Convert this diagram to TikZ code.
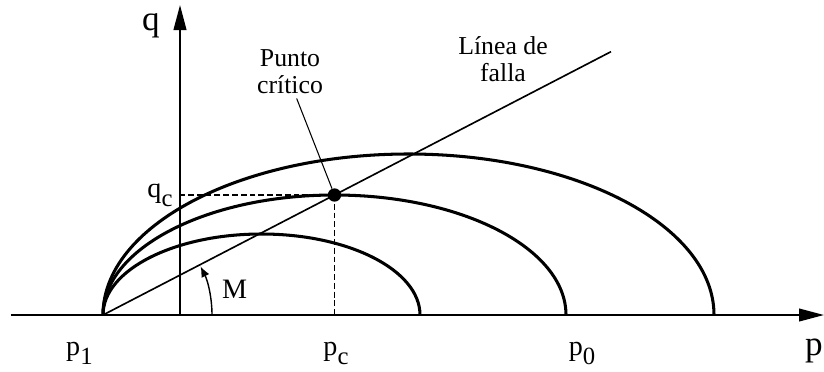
\documentclass[tikz,border=0pt]{standalone}
\usepackage{fontspec}
\setmainfont{Liberation Serif}
\usepackage{graphicx}
\usetikzlibrary{arrows.meta}
\newcommand{\lsub}[1]{\raisebox{-.35em}{\scalebox{.88}{#1}}}

\begin{document}
\begin{tikzpicture}[lbl/.style={inner sep=0pt,font=\fontsize{24}{26}\selectfont},big/.style={inner sep=0pt,font=\fontsize{30}{31}\selectfont},note/.style={inner sep=0pt,align=center,font=\fontsize{22}{22.2}\selectfont},curve/.style={line width=2.6pt},ax/.style={line width=1.7pt,-{Triangle[length=7.5mm,width=3.8mm]}},guide/.style={line width=1.1pt,dash pattern=on 5pt off 2.5pt}]
\useasboundingbox (-3.09,-1.68) rectangle (21.63,9.45);
\coordinate (p1) at (0,0);
\coordinate (pstart) at (-2.76,0);
\coordinate (pend) at (21.63,0);
\coordinate (qfoot) at (2.31,0);
\coordinate (qtop) at (2.31,9.3);
\coordinate (pc) at (6.945,3.6);
\coordinate (fend) at (15.24,7.9);
\coordinate (mstart) at (3.27,0);
\draw[ax] (pstart) -- (pend);
\draw[ax] (qfoot) -- (qtop);
\draw[curve] (p1) arc[start angle=180,end angle=0,x radius=4.755cm,y radius=2.43cm];
\draw[curve] (p1) arc[start angle=180,end angle=0,x radius=6.945cm,y radius=3.6cm];
\draw[curve] (p1) arc[start angle=180,end angle=0,x radius=9.165cm,y radius=4.83cm];
\draw[line width=1.4pt] (p1) -- (fend);
\draw[guide] (pc) -- (pc -| qfoot);
\draw[guide] (pc) -- (pc |- p1);
\node[circle,fill,inner sep=0pt,minimum size=.4cm] (crit) at (pc) {};
\draw[line width=1.2pt,-{Latex[length=3.2mm,width=2.6mm]}] (mstart) arc[start angle=0,end angle=26.5,radius=3.27cm];
% labels
\node[big,anchor=base] (qlab) at (1.44,8.55) {q};
\node[big,anchor=base] (plab) at (21.33,-1.2) {p};
\node[lbl,anchor=base west] (p1lab) at (-1.11,-1.2) {p\lsub{1}};
\node[lbl,anchor=base] (pclab) at (6.99,-1.2) {p\lsub{c}};
\node[lbl,anchor=base] (p0lab) at (14.37,-1.2) {p\lsub{0}};
\node[lbl,anchor=base] (qclab) at (1.71,3.54) {q\lsub{c}};
\node[lbl,anchor=base] (mlab) at (3.95,.51) {M};
\node[note,anchor=base] (punto) at (5.61,6.66) {Punto\\crítico};
\node[note,anchor=base] (falla) at (12.0,7.02) {Línea de\\falla};
\draw[line width=.9pt] ([xshift=.2cm,yshift=-.15cm]punto.south) -- (crit);
\end{tikzpicture}
\end{document}
